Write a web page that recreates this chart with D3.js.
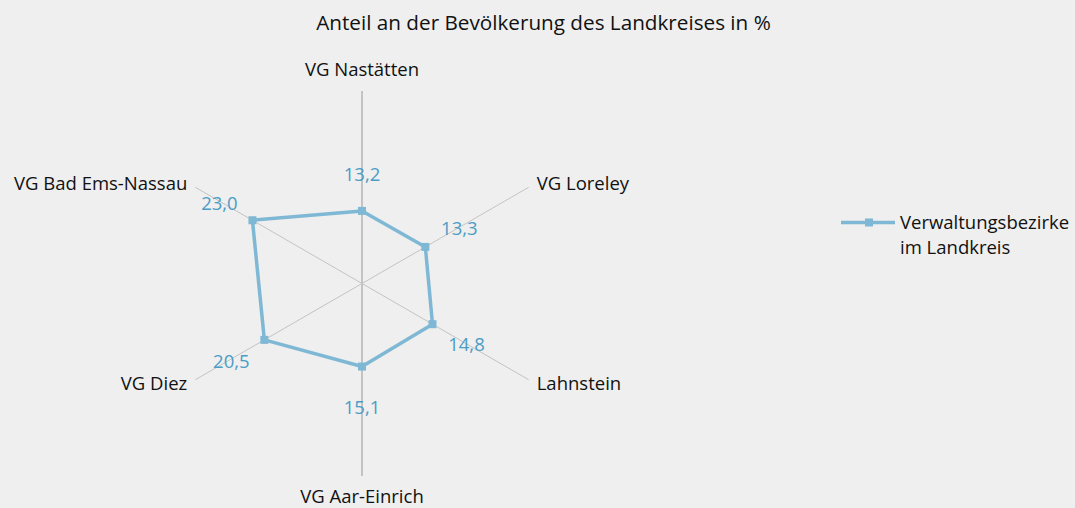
<!DOCTYPE html>
<html>
<head>
<meta charset="utf-8">
<script src="https://cdn.jsdelivr.net/npm/d3@7"></script>
<style>
  body { margin: 0; background: #eeefee; }
  svg { display: block; }
</style>
</head>
<body>
<svg id="chart" width="1075" height="508"></svg>
<script>
// data
var axes = ['VG Nastätten', 'VG Loreley', 'Lahnstein', 'VG Aar-Einrich', 'VG Diez', 'VG Bad Ems-Nassau'];
var values = [13.2, 13.3, 14.8, 15.1, 20.5, 23.0];
var seriesName = ['Verwaltungsbezirke', 'im Landkreis'];
var title = 'Anteil an der Bevölkerung des Landkreises in %';

var cx = 362, cy = 283.5, R = 192.5;
var font = '"Open Sans", sans-serif';
var fs = 18.5;
var lineColor = '#7fb8d5', labelColor = '#4b9dc6';

var svg = d3.select('#chart');

var r = d3.scaleLinear().domain([0, 35]).range([0, R]);
var angle = d3.scaleLinear().domain([0, axes.length]).range([0, 2 * Math.PI]);

function pt(i, v) {
    var a = angle(i);
    return [cx + r(v) * Math.sin(a), cy - r(v) * Math.cos(a)];
}

svg.append('text')
    .attr('x', 543.5).attr('y', 30)
    .attr('text-anchor', 'middle')
    .attr('font-family', font).attr('font-size', 20.7)
    .attr('fill', '#111')
    .text(title);

// spokes
svg.append('g')
    .selectAll('line')
    .data(axes)
    .join('line')
    .attr('x1', cx).attr('y1', cy)
    .attr('x2', (d, i) => pt(i, 35)[0])
    .attr('y2', (d, i) => pt(i, 35)[1])
    .attr('stroke', '#c3c3c3')
    .attr('stroke-width', (d, i) => i % 3 == 0 ? 2 : 1);

// category labels
var catPos = [
    { dx: 0, dy: -15, anchor: 'middle' },
    { dx: 8, dy: 3, anchor: 'start' },
    { dx: 8, dy: 10, anchor: 'start' },
    { dx: 0, dy: 27, anchor: 'middle' },
    { dx: -8, dy: 10, anchor: 'end' },
    { dx: -8, dy: 3, anchor: 'end' },
];
svg.append('g')
    .attr('font-family', font).attr('font-size', fs)
    .attr('fill', '#111')
    .selectAll('text')
    .data(axes)
    .join('text')
    .attr('x', (d, i) => pt(i, 35)[0] + catPos[i].dx)
    .attr('y', (d, i) => pt(i, 35)[1] + catPos[i].dy)
    .attr('text-anchor', (d, i) => catPos[i].anchor)
    .text(d => d);

// series
var line = d3.line().curve(d3.curveLinearClosed);
var pts = values.map((v, i) => pt(i, v));

svg.append('path')
    .attr('d', line(pts))
    .attr('fill', 'none')
    .attr('stroke', lineColor)
    .attr('stroke-width', 3.5)
    .attr('stroke-linejoin', 'round');

svg.append('g')
    .selectAll('rect')
    .data(pts)
    .join('rect')
    .attr('x', d => d[0] - 4).attr('y', d => d[1] - 4)
    .attr('width', 8).attr('height', 8)
    .attr('fill', lineColor);

// value labels
var valOff = [[0, -30], [34, -12], [34, 27], [0, 47], [-33, 28], [-33, -10]];
svg.append('g')
    .attr('font-family', font).attr('font-size', fs)
    .attr('fill', labelColor)
    .attr('text-anchor', 'middle')
    .selectAll('text')
    .data(values)
    .join('text')
    .attr('x', (d, i) => pts[i][0] + valOff[i][0])
    .attr('y', (d, i) => pts[i][1] + valOff[i][1])
    .text(d => d3.format('.1f')(d).replace('.', ','));

// legend
var lg = svg.append('g').attr('transform', 'translate(841,222.5)');
lg.append('line')
    .attr('x1', 0).attr('x2', 54).attr('y1', 0).attr('y2', 0)
    .attr('stroke', lineColor).attr('stroke-width', 3.5);
lg.append('rect')
    .attr('x', 24).attr('y', -4).attr('width', 8).attr('height', 8)
    .attr('fill', lineColor);
lg.append('g')
    .attr('font-family', font).attr('font-size', fs)
    .attr('fill', '#111')
    .selectAll('text')
    .data(seriesName)
    .join('text')
    .attr('x', 59)
    .attr('y', (d, i) => 6 + i * 25)
    .text(d => d);
</script>
</body>
</html>
